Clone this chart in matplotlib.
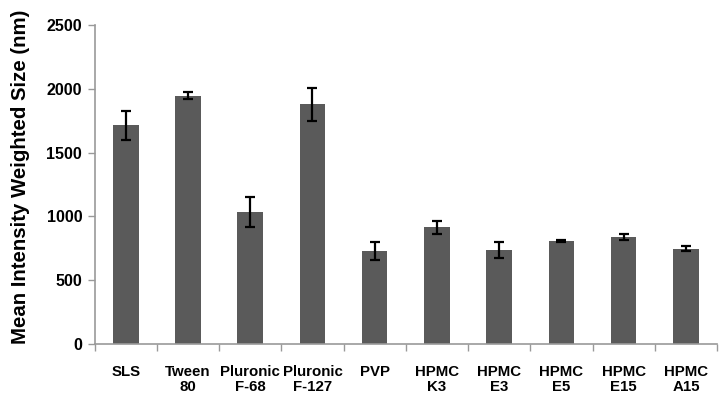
import numpy as np
import matplotlib.pyplot as plt

plt.rcParams["font.family"] = ["Liberation Sans", "DejaVu Sans"]
plt.rcParams["font.weight"] = "bold"

labels = ["SLS", "Tween\n80", "Pluronic\nF-68", "Pluronic\nF-127", "PVP",
          "HPMC\nK3", "HPMC\nE3", "HPMC\nE5", "HPMC\nE15", "HPMC\nA15"]
sizes = [1715, 1945, 1035, 1878, 727, 916, 737, 811, 838, 748]
errors = [115, 27, 120, 128, 70, 51, 62, 8, 25, 22]

fig = plt.figure(figsize=(7.28, 4.04), dpi=100)
ax = fig.add_axes([0.130, 0.1485, 0.855, 0.7895])

x = np.arange(len(labels))
ax.bar(x, sizes, width=0.41, color="#5a5a5a", zorder=2)
ax.errorbar(x, sizes, yerr=errors, fmt="none", ecolor="black",
            elinewidth=1.6, capsize=3.8, capthick=1.6, zorder=3)

ax.set_xlim(-0.5, len(labels) - 0.5)
ax.set_ylim(0, 2500)
ax.set_yticks(np.arange(0, 2501, 500))
ax.set_yticklabels([str(v) for v in range(0, 2501, 500)], fontsize=11.5, fontweight="bold")

# category boundary ticks on x axis, labels at centres
ax.set_xticks(np.arange(-0.5, len(labels) + 0.5, 1))
ax.set_xticklabels([])
ax.set_xticks(x, minor=True)
ax.set_xticklabels(labels, minor=True, fontsize=10.8, fontweight="bold",
                   linespacing=1.15)
ax.tick_params(axis="x", which="minor", length=0, pad=15)
ax.tick_params(axis="x", which="major", length=5, color="#999999", width=1)
ax.tick_params(axis="y", length=5, color="#999999", width=1, pad=4)

for s in ["top", "right"]:
    ax.spines[s].set_visible(False)
for s in ["left", "bottom"]:
    ax.spines[s].set_color("#999999")
    ax.spines[s].set_linewidth(1.2)

ax.set_ylabel("Mean Intensity Weighted Size (nm)", fontsize=14.7, fontweight="bold")
ax.yaxis.set_label_coords(-0.104, 0.525)

fig.savefig("out.png", dpi=100)
